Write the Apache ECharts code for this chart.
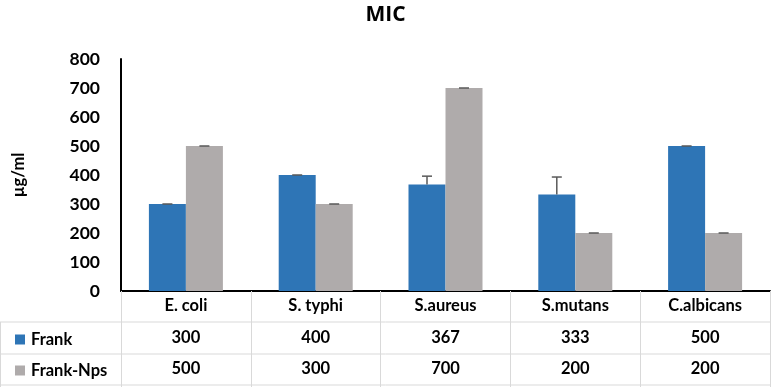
<!DOCTYPE html>
<html>
<head>
<meta charset="utf-8">
<script src="https://cdn.jsdelivr.net/npm/echarts@6/dist/echarts.min.js"></script>
<style>
  html, body { margin: 0; padding: 0; background: #fff; }
  #chart { width: 771px; height: 387px; }
</style>
</head>
<body>
<div id="chart"></div>
<script>
  // data
  const categories = ['E. coli', 'S. typhi', 'S.aureus', 'S.mutans', 'C.albicans']
  const frank = [300, 400, 367, 333, 500]
  const frankNps = [500, 300, 700, 200, 200]
  const frankErr = [0, 0, 29, 60, 0]
  const frankNpsErr = [0, 0, 0, 0, 0]
  const yTicks = [0, 100, 200, 300, 400, 500, 600, 700, 800]

  const FONT = 'Lato'
  const BLUE = '#2E75B6'
  const GRAY = '#AFABAB'
  const LINE = '#D9D9D9'

  const myChart = echarts.init(document.getElementById('chart'))

  // error bar drawn as a custom series, shifted onto its bar
  function errorSeries(name, values, errs, shift) {
    return {
      name: name + ' err',
      type: 'custom',
      xAxisIndex: 0,
      z: 5,
      silent: true,
      data: values.map((v, i) => [i, v, v + errs[i]]),
      renderItem: (params, api) => {
        const bottom = api.coord([api.value(0), api.value(1)])
        const top = api.coord([api.value(0), api.value(2)])
        const bw = api.size([1, 0])[0]
        const x = bottom[0] + shift * bw
        const half = 5
        const style = { stroke: '#595959', lineWidth: 1.5 }
        return {
          type: 'group',
          children: [
            { type: 'line', shape: { x1: x, y1: bottom[1], x2: x, y2: top[1] }, style },
            { type: 'line', shape: { x1: x - half, y1: top[1], x2: x + half, y2: top[1] }, style }
          ]
        }
      }
    }
  }

  // table rows are extra category axes under the plot
  function rowAxis(values, offset) {
    return {
      type: 'category',
      data: values.map(String),
      position: 'bottom',
      offset: offset,
      axisLine: { show: false },
      axisTick: { show: false },
      axisLabel: { margin: 6, color: '#000', fontFamily: FONT, fontWeight: 'bold', fontSize: 16.5 }
    }
  }

  // one legend per table row, as keys in the first column
  function rowLegend(name, top) {
    return {
      left: 10,
      top: top,
      icon: 'rect',
      itemWidth: 10,
      itemHeight: 10,
      data: [name],
      textStyle: { fontFamily: FONT, fontWeight: 'bold', fontSize: 16.5, color: '#000', padding: [0, 0, 0, 1] }
    }
  }

  const option = {
    animation: false,
    title: {
      text: 'MIC',
      left: 'center',
      top: 0,
      textStyle: { fontFamily: 'Open Sans', fontWeight: 'bold', fontSize: 21, color: '#000' }
    },
    legend: [rowLegend('Frank', 326), rowLegend('Frank-Nps', 357)],
    grid: { left: 121, right: 1, top: 59, bottom: 96 },
    xAxis: [
      {
        type: 'category',
        data: categories,
        axisLine: { lineStyle: { color: '#000', width: 2 } },
        axisTick: { show: true, length: 96, lineStyle: { color: LINE, width: 1 } },
        axisLabel: { margin: 6, color: '#000', fontFamily: FONT, fontWeight: 'bold', fontSize: 16.5 }
      },
      rowAxis(frank, 32),
      rowAxis(frankNps, 63)
    ],
    yAxis: {
      type: 'value',
      min: 0,
      max: 800,
      interval: 100,
      name: 'µg/ml',
      nameLocation: 'middle',
      nameGap: 94,
      nameTextStyle: { fontFamily: FONT, fontWeight: 'bold', fontSize: 16.5, color: '#000' },
      axisLine: { show: true, lineStyle: { color: '#000', width: 2 } },
      axisTick: { show: false },
      splitLine: { show: false },
      axisLabel: {
        margin: 21,
        color: '#000',
        fontFamily: FONT,
        fontWeight: 'bold',
        fontSize: 17.5,
        formatter: v => (yTicks.includes(v) ? String(v) : '')
      }
    },
    graphic: [
      // table horizontal rules
      { type: 'line', shape: { x1: 0, y1: 322, x2: 771, y2: 322 }, style: { stroke: LINE, lineWidth: 1 } },
      { type: 'line', shape: { x1: 0, y1: 354, x2: 771, y2: 354 }, style: { stroke: LINE, lineWidth: 1 } },
      { type: 'line', shape: { x1: 0, y1: 385, x2: 771, y2: 385 }, style: { stroke: LINE, lineWidth: 1 } },
      { type: 'line', shape: { x1: 0.5, y1: 322, x2: 0.5, y2: 387 }, style: { stroke: LINE, lineWidth: 1 } }
    ],
    series: [
      {
        name: 'Frank',
        type: 'bar',
        data: frank,
        barWidth: 37,
        barGap: '0%',
        itemStyle: { color: BLUE }
      },
      {
        name: 'Frank-Nps',
        type: 'bar',
        data: frankNps,
        barWidth: 37,
        barGap: '0%',
        itemStyle: { color: GRAY }
      },
      errorSeries('Frank', frank, frankErr, -0.5 * 37 / 129.8),
      errorSeries('Frank-Nps', frankNps, frankNpsErr, 0.5 * 37 / 129.8)
    ]
  }

  myChart.setOption(option)
</script>
</body>
</html>
